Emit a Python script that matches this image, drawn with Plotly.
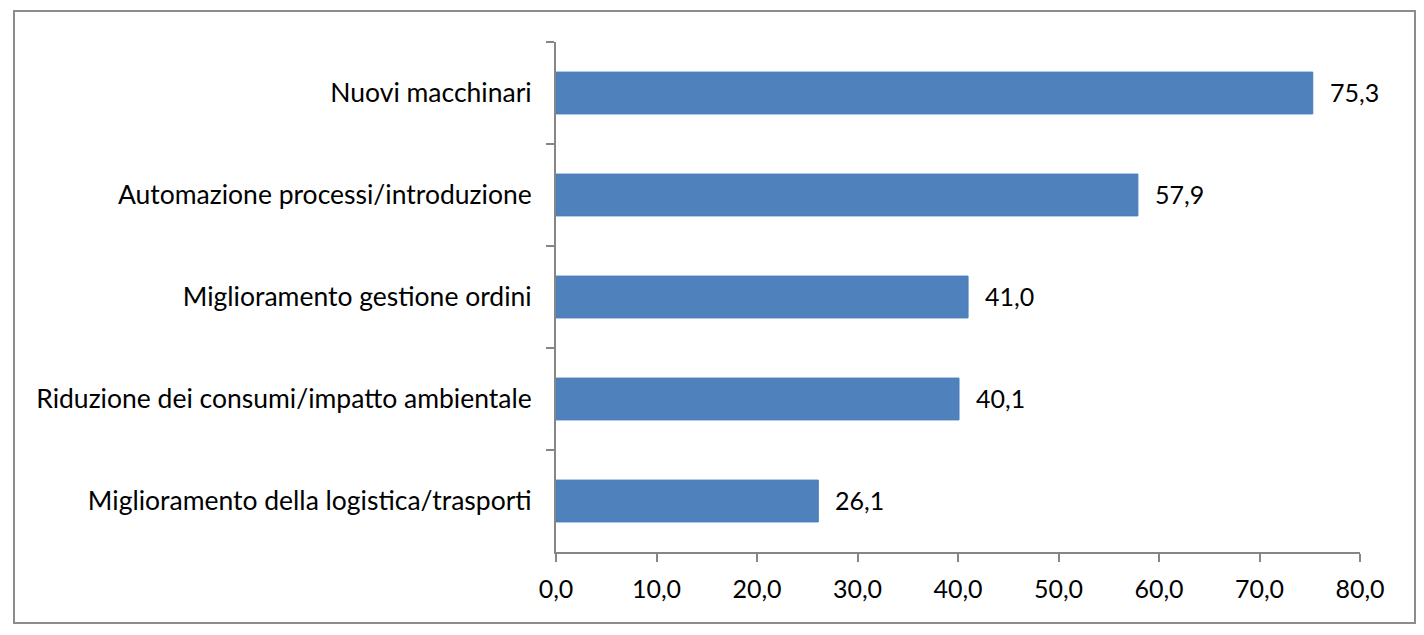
import plotly.graph_objects as go

categories = [
    "Nuovi macchinari",
    "Automazione processi/introduzione",
    "Miglioramento gestione ordini",
    "Riduzione dei consumi/impatto ambientale",
    "Miglioramento della logistica/trasporti",
]
values = [75.3, 57.9, 41.0, 40.1, 26.1]
x_ticks = [0, 10, 20, 30, 40, 50, 60, 70, 80]

W, H = 1424, 635
L, R, T, B = 556, 64, 42, 83
pw, ph = W - L - R, H - T - B

def px_x(p):
    return (p - L) / pw

def px_y(p):
    return (H - B - p) / ph

FONT = "Lato"
AX = "#868686"

fig = go.Figure()
fig.add_trace(go.Bar(
    y=categories, x=values, orientation="h",
    marker=dict(color="#4F81BD", line=dict(color="#4A7EBB", width=1)),
    width=0.41,
    hoverinfo="skip",
))

for c, v in zip(categories, values):
    fig.add_annotation(
        x=v, y=c, xref="x", yref="y",
        text=f"{v:.1f}".replace(".", ","),
        showarrow=False, xanchor="left", xshift=15, yshift=1,
        font=dict(family=FONT, size=25, color="#000000"),
    )

fig.add_shape(
    type="rect", xref="paper", yref="paper",
    x0=px_x(14), x1=px_x(1415), y0=px_y(623), y1=px_y(11),
    line=dict(color="#8c8c8c", width=2), fillcolor="rgba(0,0,0,0)", layer="below",
)

fig.update_layout(
    width=W, height=H,
    margin=dict(l=L, r=R, t=T, b=B, pad=0),
    paper_bgcolor="white", plot_bgcolor="white",
    separators=",.",
    showlegend=False,
    font=dict(family=FONT, size=26, color="#000000"),
    xaxis=dict(
        range=[0, 80], tickvals=x_ticks, tickformat=".1f",
        showgrid=False, zeroline=False,
        showline=True, linecolor=AX, linewidth=2,
        ticks="outside", ticklen=8, tickcolor=AX, tickwidth=2,
        ticklabelstandoff=6,
        tickfont=dict(family=FONT, size=25, color="#000000"),
    ),
    yaxis=dict(
        type="category", autorange="reversed",
        showgrid=False, zeroline=False,
        showline=True, linecolor=AX, linewidth=2,
        ticks="outside", ticklen=8, tickcolor=AX, tickwidth=2,
        tickson="boundaries",
        ticklabelstandoff=17,
        tickfont=dict(family=FONT, size=26.5, color="#000000"),
    ),
)

fig.write_html("out.html")
